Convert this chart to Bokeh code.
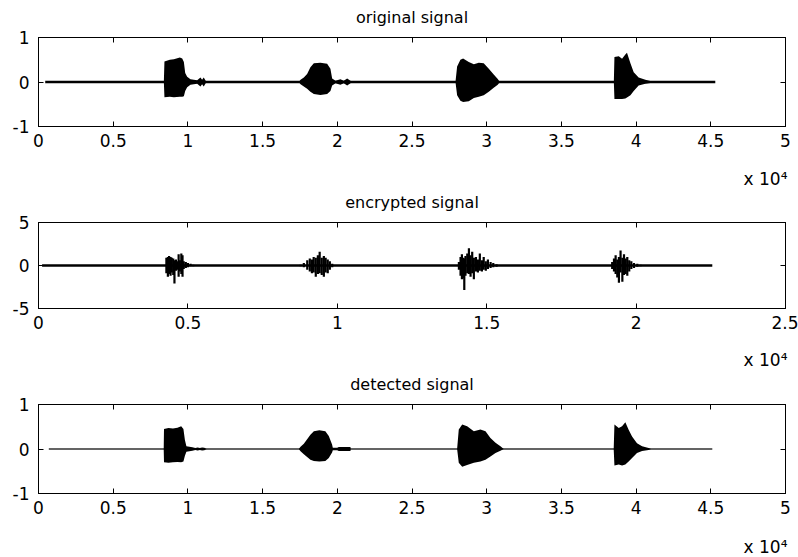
import numpy as np
from bokeh.plotting import figure
from bokeh.layouts import column
from bokeh.models import FixedTicker, CustomJSTickFormatter, LinearAxis, Range1d, Title
from bokeh.embed import file_html
from bokeh.resources import INLINE

# ---------------- data (x in samples) ----------------
titles = ["original signal", "encrypted signal", "detected signal"]
scale_label = "x 10\u2074"
xticks_long = [0, 0.5, 1, 1.5, 2, 2.5, 3, 3.5, 4, 4.5, 5]      # x 10^4
xticks_short = [0, 0.5, 1, 1.5, 2, 2.5]                         # x 10^4
yticks_small = [-1, 0, 1]
yticks_big = [-5, 0, 5]

# extent of each signal's trace (samples)
orig_span = [450, 45300]
enc_span = [120, 22550]
det_span = [690, 45100]

# original signal: envelope (upper / lower) of the four bursts
orig_env_x = [8390, 8430, 8790, 9060, 9460, 9620, 9730, 9820, 9950, 10170, 10620, 10840, 10950, 11060, 11240,
              17420, 17540, 17760, 17980, 18200, 18430, 18870, 19320, 19540, 19655, 19880, 20210, 20430, 20660, 20880, 20990,
              27910, 28020, 28240, 28420, 28800, 29140, 29470, 29800, 30140, 30470, 30740, 30880,
              38510, 38550, 38840, 39060, 39280, 39390, 39620, 39840, 40170, 40620, 40950, 41060]
orig_env_hi = [0, 0.46, 0.50, 0.51, 0.55, 0.53, 0.45, 0.20, 0.12, 0.06, 0.04, 0.10, 0.05, 0.10, 0,
               0, 0.05, 0.10, 0.18, 0.33, 0.42, 0.43, 0.41, 0.30, 0.08, 0.03, 0.06, 0.03, 0.08, 0.03, 0,
               0, 0.35, 0.50, 0.53, 0.45, 0.40, 0.43, 0.42, 0.30, 0.17, 0.07, 0,
               0, 0.56, 0.58, 0.52, 0.62, 0.66, 0.42, 0.22, 0.10, 0.05, 0.02, 0]
orig_env_lo = [0, -0.34, -0.33, -0.34, -0.33, -0.33, -0.32, -0.20, -0.12, -0.06, -0.04, -0.10, -0.05, -0.10, 0,
               0, -0.05, -0.10, -0.15, -0.22, -0.27, -0.29, -0.27, -0.20, -0.08, -0.03, -0.06, -0.03, -0.08, -0.03, 0,
               0, -0.30, -0.42, -0.45, -0.43, -0.36, -0.33, -0.30, -0.22, -0.13, -0.06, 0,
               0, -0.38, -0.38, -0.38, -0.37, -0.35, -0.30, -0.20, -0.08, -0.04, -0.02, 0]

# encrypted signal: individual spikes (x, top, bottom)
enc_spike_x = [4280, 4330, 4370, 4420, 4460, 4510, 4550, 4600, 4640, 4690, 4730, 4780, 4820, 4860, 4930, 5000, 5090, 5180,
               8770, 8880, 8995, 9080, 9150, 9210, 9280, 9350, 9410, 9480, 9550, 9610, 9680, 9750, 9830,
               14070, 14125, 14170, 14215, 14250, 14290, 14350, 14405, 14460, 14515, 14570, 14640, 14705, 14770,
               14840, 14900, 14970, 15040, 15130, 15220, 15330,
               19200, 19260, 19315, 19370, 19425, 19480, 19540, 19595, 19650, 19705, 19770, 19840, 19930, 20040, 20150]
enc_spike_hi = [0.9, 1.0, 1.1, 1.0, 0.9, 0.8, 0.6, 0.7, 0.5, 1.3, 0.6, 1.4, 1.2, 0.5, 0.4, 0.3, 0.2, 0.1,
                0.1, 0.3, 0.6, 0.8, 0.7, 1.0, 0.9, 1.2, 1.6, 0.9, 1.1, 0.9, 0.7, 0.5, 0.2,
                0.4, 1.0, 1.3, 0.9, 0.8, 1.1, 1.4, 2.0, 1.2, 1.6, 0.9, 1.0, 0.7, 1.4,
                0.6, 1.0, 0.5, 0.7, 0.4, 0.3, 0.15,
                0.4, 0.8, 1.2, 0.7, 1.0, 1.75, 0.9, 1.3, 0.8, 1.0, 0.6, 0.5, 0.3, 0.2, 0.1]
enc_spike_lo = [-0.9, -1.3, -1.0, -1.2, -0.8, -1.1, -2.1, -0.6, -0.5, -1.3, -0.7, -1.0, -1.3, -0.4, -0.3, -0.2, -0.1, -0.1,
                -0.1, -0.2, -0.5, -0.7, -0.9, -0.8, -1.3, -1.0, -0.9, -1.1, -1.3, -0.8, -0.9, -0.5, -0.2,
                -0.5, -1.2, -1.6, -1.5, -2.85, -1.2, -0.9, -1.0, -1.3, -0.9, -1.6, -0.7, -0.8, -0.6,
                -0.7, -0.5, -0.6, -0.4, -0.3, -0.2, -0.15,
                -0.4, -0.7, -1.0, -1.4, -2.0, -0.8, -1.9, -1.1, -1.0, -1.2, -0.7, -0.4, -0.3, -0.15, -0.1]

# detected signal: envelope of the four bursts
det_env_x = [8380, 8400, 8700, 9000, 9300, 9550, 9700, 9800, 9900, 10300, 10500, 10650, 10800, 10950, 11100, 11250,
             17420, 17540, 17760, 17980, 18200, 18430, 18800, 19200, 19430, 19650, 19700, 19990, 20100, 20880, 20900,
             28020, 28130, 28360, 28690, 29140, 29580, 29920, 30250, 30590, 30920, 31140,
             38500, 38550, 38840, 39060, 39280, 39500, 39730, 40060, 40400, 40840, 41000]
det_env_hi = [0, 0.45, 0.47, 0.46, 0.48, 0.51, 0.45, 0.20, 0.06, 0.04, 0.02, 0.035, 0.02, 0.035, 0.03, 0,
              0, 0.05, 0.12, 0.22, 0.32, 0.40, 0.42, 0.40, 0.29, 0.10, 0.03, 0.03, 0.045, 0.045, 0,
              0, 0.44, 0.55, 0.51, 0.40, 0.44, 0.40, 0.25, 0.14, 0.06, 0,
              0, 0.55, 0.47, 0.51, 0.60, 0.43, 0.28, 0.13, 0.06, 0.02, 0]
det_env_lo = [0, -0.30, -0.31, -0.30, -0.29, -0.30, -0.28, -0.15, -0.06, -0.04, -0.02, -0.035, -0.02, -0.035, -0.03, 0,
              0, -0.05, -0.12, -0.18, -0.24, -0.27, -0.28, -0.27, -0.20, -0.08, -0.03, -0.03, -0.045, -0.045, 0,
              0, -0.31, -0.40, -0.36, -0.31, -0.28, -0.24, -0.17, -0.09, -0.04, 0,
              0, -0.37, -0.35, -0.37, -0.35, -0.28, -0.20, -0.09, -0.045, -0.02, 0]

SCALE = 1e4
FONT = "DejaVu Sans"


def style_axis(ax, ticks, labels=True):
    ax.ticker = FixedTicker(ticks=ticks)
    ax.formatter = CustomJSTickFormatter(code="return String(tick)")
    ax.major_tick_in = 5
    ax.major_tick_out = 0
    ax.minor_tick_line_color = None
    ax.axis_line_color = "black"
    ax.major_tick_line_color = "black"
    ax.major_label_text_font = FONT
    ax.major_label_text_color = "black"
    if labels:
        ax.major_label_text_font_size = "17px"
    else:
        ax.major_label_text_font_size = "0px"
        ax.major_label_standoff = 0


def make_panel(title, xmax, xticks, ymax, yticks, top, frame_h, bottom, title_gap, note_pad):
    h = top + frame_h + bottom
    p = figure(width=798, height=h, x_range=Range1d(0, xmax), y_range=Range1d(-ymax, ymax),
               output_backend="svg", toolbar_location=None,
               min_border_left=38, min_border_right=13,
               min_border_top=top, min_border_bottom=bottom)
    p.grid.visible = False
    p.outline_line_color = "black"
    p.outline_line_alpha = 1
    p.background_fill_color = "white"
    p.border_fill_color = "white"
    xa = p.xaxis[0]
    style_axis(xa, xticks)
    style_axis(p.yaxis[0], yticks)
    xa.major_label_standoff = 7
    p.yaxis[0].major_label_standoff = 9
    top_ax = LinearAxis()
    right_ax = LinearAxis()
    style_axis(top_ax, xticks, labels=False)
    style_axis(right_ax, yticks, labels=False)
    p.add_layout(top_ax, "above")
    p.add_layout(right_ax, "right")

    # subplot title, as the label of the top axis
    top_ax.axis_label = title
    top_ax.axis_label_align = "center"
    top_ax.axis_label_standoff = title_gap
    top_ax.axis_label_text_font = FONT
    top_ax.axis_label_text_font_size = "16px"
    top_ax.axis_label_text_font_style = "normal"
    top_ax.axis_label_text_color = "black"

    # blank bottom-axis label used only as vertical spacing
    xa.axis_label = "\u00a0"
    xa.axis_label_text_font_size = "1px"
    xa.axis_label_standoff = note_pad

    # "x 10^4" note, right-aligned under the bottom axis
    p.add_layout(Title(text=scale_label, align="right", text_font=FONT, text_font_size="17px",
                       text_font_style="normal", text_color="black", standoff=2, offset=-2),
                 "below")
    return p


p1 = make_panel(titles[0], 5, xticks_long, 1, yticks_small, 37, 91, 61, 11, 12)
p1.line(np.array(orig_span) / SCALE, [0, 0], line_color="black", line_width=2.6)
p1.varea(x=np.array(orig_env_x) / SCALE, y1=orig_env_lo, y2=orig_env_hi, fill_color="black")

p2 = make_panel(titles[1], 2.5, xticks_short, 5, yticks_big, 32, 90, 59, 11, 11)
p2.line(np.array(enc_span) / SCALE, [0, 0], line_color="black", line_width=2.6)
p2.segment(x0=np.array(enc_spike_x) / SCALE, y0=enc_spike_lo, x1=np.array(enc_spike_x) / SCALE,
           y1=enc_spike_hi, line_color="black", line_width=2.2)

p3 = make_panel(titles[2], 5, xticks_long, 1, yticks_small, 34, 89, 64, 11, 13)
p3.line(np.array(det_span) / SCALE, [0, 0], line_color="#303030", line_width=1.6)
p3.varea(x=np.array(det_env_x) / SCALE, y1=det_env_lo, y2=det_env_hi, fill_color="black")

layout = column(p1, p2, p3, spacing=0)
open("out.html", "w").write(file_html(layout, INLINE))
